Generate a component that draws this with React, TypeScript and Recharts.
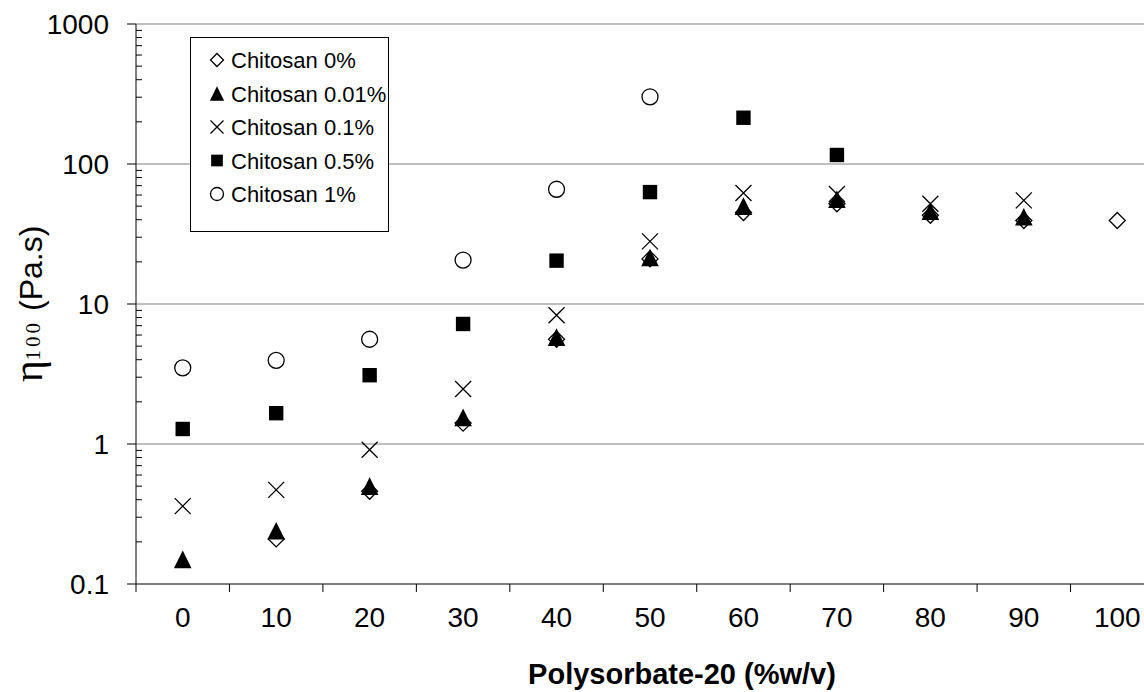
import React from "react"
import { ScatterChart, Scatter, XAxis, YAxis, ReferenceLine, Legend } from "recharts"

// Polysorbate-20 concentration (%w/v)
const concentrations = [0, 10, 20, 30, 40, 50, 60, 70, 80, 90, 100]

// viscosity at 100 1/s (Pa.s), null = no point
const chitosan0 = [null, 0.21, 0.46, 1.41, 5.6, 21, 45, 52, 43, 39.5, 39.5]
const chitosan001 = [0.15, 0.24, 0.5, 1.55, 5.8, 21.5, 50, 56, 46, 42, null]
const chitosan01 = [0.36, 0.47, 0.91, 2.47, 8.3, 28, 62, 61, 52, 55, null]
const chitosan05 = [1.28, 1.66, 3.1, 7.2, 20.4, 63, 214, 116, null, null, null]
const chitosan1 = [3.5, 3.96, 5.6, 20.6, 66, 302, null, null, null, null, null]

const yMajorTicks = [0.1, 1, 10, 100, 1000]
const gridValues = [1, 10, 100, 1000]

const SANS = "'Liberation Sans', Arial, sans-serif"
const SERIF = "'Liberation Serif', 'Times New Roman', serif"

type Kind = "diamond" | "triangle" | "cross" | "square" | "circle"

const series: { name: string; kind: Kind; values: (number | null)[] }[] = [
    { name: "Chitosan 0%", kind: "diamond", values: chitosan0 },
    { name: "Chitosan 0.01%", kind: "triangle", values: chitosan001 },
    { name: "Chitosan 0.1%", kind: "cross", values: chitosan01 },
    { name: "Chitosan 0.5%", kind: "square", values: chitosan05 },
    { name: "Chitosan 1%", kind: "circle", values: chitosan1 },
]

const toPoints = (values: (number | null)[]) =>
    concentrations
        .map((x, i) => ({ x, y: values[i] }))
        .filter((p) => p.y != null)

// minor log ticks 2..9 inside each decade
const yMinorTicks = yMajorTicks.slice(0, -1).flatMap((d) => [2, 3, 4, 5, 6, 7, 8, 9].map((m) => d * m))
const xBoundaries = [...concentrations.map((c) => c - 5), 105]

function drawMarker(kind: Kind, cx: number, cy: number, s: number) {
    switch (kind) {
        case "diamond":
            return (
                <path
                    d={`M${cx},${cy - s} L${cx + s},${cy} L${cx},${cy + s} L${cx - s},${cy} Z`}
                    fill="#fff"
                    stroke="#000"
                    strokeWidth={1.3}
                />
            )
        case "triangle":
            return <path d={`M${cx},${cy - s * 1.1} L${cx + s * 1.1},${cy + s * 1.1} L${cx - s * 1.1},${cy + s * 1.1} Z`} fill="#000" />
        case "cross":
            return (
                <path
                    d={`M${cx - s},${cy - s} L${cx + s},${cy + s} M${cx - s},${cy + s} L${cx + s},${cy - s}`}
                    stroke="#000"
                    strokeWidth={1.3}
                />
            )
        case "square":
            return <rect x={cx - s * 0.9} y={cy - s * 0.9} width={s * 1.8} height={s * 1.8} fill="#000" />
        case "circle":
            return <circle cx={cx} cy={cy} r={s} fill="none" stroke="#000" strokeWidth={1.3} />
    }
}

const shapeFor = (kind: Kind) => (props: any) => drawMarker(kind, props.cx, props.cy, 8)

function YTick({ x, y, payload }: any) {
    if (yMajorTicks.includes(payload.value)) {
        return (
            <g>
                <line x1={x - 9} x2={x} y1={y} y2={y} stroke="#000" />
                <text x={x - 27} y={y + 10} textAnchor="end" fontSize={28} fontFamily={SANS} fill="#000">
                    {payload.value}
                </text>
            </g>
        )
    }
    return <line x1={x} x2={x + 6} y1={y} y2={y} stroke="#000" />
}

function XTick({ x, y, payload }: any) {
    if (concentrations.includes(payload.value)) {
        return (
            <text x={x} y={y + 43} textAnchor="middle" fontSize={28} fontFamily={SANS} fill="#000">
                {payload.value}
            </text>
        )
    }
    return <line x1={x} x2={x} y1={y} y2={y + 8} stroke="#000" />
}

function LegendBox({ payload }: any) {
    return (
        <svg width={200} height={196} style={{ display: "block" }}>
            <rect x={0.5} y={0.5} width={198} height={194} fill="#fff" stroke="#000" />
            {(payload || []).map((entry: any, i: number) => {
                const s = series.find((d) => d.name === entry.value)
                const cy = 23 + i * 33.5
                return (
                    <g key={entry.value}>
                        {s && drawMarker(s.kind, 27, cy, 6.5)}
                        <text x={41} y={cy + 8} fontSize={22} fontFamily={SANS} fill="#000">
                            {entry.value}
                        </text>
                    </g>
                )
            })}
        </svg>
    )
}

export default function App() {
    return (
        <div style={{ position: "fixed", left: 0, top: 0, width: 1144, height: 692, overflow: "hidden", background: "#fff" }}>
            <ScatterChart width={1170} height={692} margin={{ top: 24, right: 6, bottom: 0, left: 0 }}>
                <XAxis
                    type="number"
                    dataKey="x"
                    domain={[-5, 105]}
                    ticks={[...concentrations, ...xBoundaries].sort((a, b) => a - b)}
                    interval={0}
                    tickSize={0}
                    tickMargin={0}
                    tickLine={false}
                    tick={<XTick />}
                    height={108}
                    axisLine={{ stroke: "#000" }}
                    allowDataOverflow
                    label={{
                        content: () => (
                            <text x={682} y={684} textAnchor="middle" fontSize={29} fontWeight="bold" fontFamily={SANS} fill="#000">
                                Polysorbate-20 (%w/v)
                            </text>
                        ),
                    }}
                />
                <YAxis
                    type="number"
                    dataKey="y"
                    scale="log"
                    domain={[0.1, 1000]}
                    ticks={[...yMajorTicks, ...yMinorTicks].sort((a, b) => a - b)}
                    interval={0}
                    tickSize={0}
                    tickMargin={0}
                    tickLine={false}
                    tick={<YTick />}
                    width={136}
                    axisLine={{ stroke: "#000" }}
                    allowDataOverflow
                    label={{
                        content: () => (
                            <text transform="rotate(-90 42 304)" x={42} y={304} textAnchor="middle" fill="#000">
                                <tspan fontFamily={SERIF} fontSize={42}>η</tspan>
                                <tspan fontFamily={SERIF} fontSize={21} letterSpacing={3} dy={-2}>100</tspan>
                                <tspan fontFamily={SANS} fontSize={32} dy={2}> (Pa.s)</tspan>
                            </text>
                        ),
                    }}
                />
                {gridValues.map((v) => (
                    <ReferenceLine key={v} y={v} stroke="#808080" strokeWidth={1} />
                ))}
                <Legend
                    layout="vertical"
                    align="center"
                    verticalAlign="middle"
                    content={<LegendBox />}
                    wrapperStyle={{ position: "absolute", left: 190, top: 37, width: 200, height: 196 }}
                />
                {series.map((s) => (
                    <Scatter
                        key={s.name}
                        name={s.name}
                        data={toPoints(s.values)}
                        shape={shapeFor(s.kind)}
                        isAnimationActive={false}
                    />
                ))}
            </ScatterChart>
        </div>
    )
}
